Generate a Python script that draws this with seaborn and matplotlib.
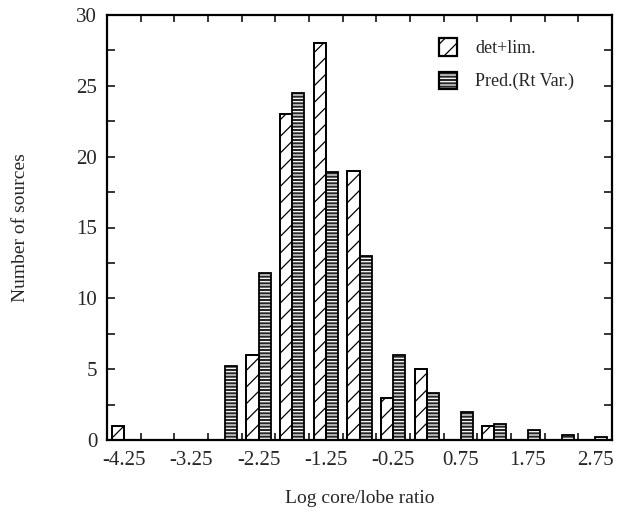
import matplotlib
matplotlib.use("Agg")
import matplotlib.pyplot as plt
from matplotlib.patches import Patch
from matplotlib.ticker import MultipleLocator, FixedLocator
import numpy as np
import pandas as pd
import seaborn as sns

# ---- data ----
bin_centers = [-4.25, -3.75, -3.25, -2.75, -2.25, -1.75, -1.25, -0.75,
               -0.25, 0.25, 0.75, 1.25, 1.75, 2.25, 2.75]
det_lim = [1, 0, 0, 0, 6, 23, 28, 19, 3, 5, 0, 1, 0, 0, 0]
pred_rt = [0, 0, 0, 5.2, 11.8, 24.5, 18.9, 13, 6, 3.3, 2, 1.1, 0.7, 0.35, 0.2]
series_names = ["det+lim.", "Pred.(Rt Var.)"]
xtick_labels = ["-4.25", "-3.25", "-2.25", "-1.25", "-0.25", "0.75", "1.75", "2.75"]

df = pd.DataFrame({
    "x": bin_centers * 2,
    "series": [series_names[0]] * len(bin_centers) + [series_names[1]] * len(bin_centers),
    "count": det_lim + pred_rt,
})

sns.set_style("white")
plt.rcParams["font.family"] = ["Liberation Serif", "DejaVu Serif"]
plt.rcParams["hatch.linewidth"] = 0.9

fig = plt.figure(figsize=(6.32, 5.15), dpi=100)
ax = fig.add_axes([107 / 632, 1 - 440 / 515, 505 / 632, 425 / 515])

dark = "#262626"
pal = {series_names[0]: "white", series_names[1]: dark}

# filled bars
sns.barplot(data=df, x="x", y="count", hue="series", hue_order=series_names,
            native_scale=True, width=0.72, dodge=True, errorbar=None,
            palette=pal, legend=False, ax=ax, saturation=1)
n = len(bin_centers)
fill_patches = list(ax.patches)
for i, p in enumerate(fill_patches):
    if i < n:
        p.set_edgecolor("black")
        p.set_hatch("//")
        p.set_linewidth(1.2)
    else:
        p.set_edgecolor("white")
        p.set_hatch("-----")
        p.set_linewidth(0)

# outline overlay for the striped bars
sns.barplot(data=df, x="x", y="count", hue="series", hue_order=series_names,
            native_scale=True, width=0.72, dodge=True, errorbar=None,
            fill=False, palette={series_names[0]: "black", series_names[1]: "black"},
            legend=False, ax=ax, linewidth=1.3)

ax.set_xlim(-4.5, 3.0)
ax.set_ylim(0, 30)

ax.xaxis.set_major_locator(FixedLocator([-4.25, -3.25, -2.25, -1.25, -0.25, 0.75, 1.75, 2.75]))
ax.set_xticklabels(xtick_labels)
ax.xaxis.set_minor_locator(FixedLocator(np.arange(-4.0, 2.75, 0.5)))
ax.yaxis.set_major_locator(MultipleLocator(5))
ax.yaxis.set_minor_locator(MultipleLocator(2.5))

ax.tick_params(axis="x", which="major", length=0, labelsize=15, pad=8)
ax.tick_params(axis="x", which="minor", direction="in", length=5, width=1.3,
               top=True, bottom=True)
ax.tick_params(axis="y", which="both", direction="in", length=6, width=1.3,
               left=True, right=True, labelsize=15, pad=7)

for s in ax.spines.values():
    s.set_linewidth(1.6)
    s.set_color("black")

ax.set_xlabel("Log core/lobe ratio", fontsize=14, labelpad=14)
ax.set_ylabel("Number of sources", fontsize=14, labelpad=34)

h1 = Patch(facecolor="white", edgecolor="black", hatch="//", linewidth=1.6)
h2a = Patch(facecolor=dark, edgecolor="white", hatch="-----", linewidth=0)
h2b = Patch(facecolor="none", edgecolor="black", linewidth=1.6)
ax.legend([h1, (h2a, h2b)], series_names, loc="upper left",
          bbox_to_anchor=(0.633, 0.975), frameon=False, fontsize=13,
          handlelength=1.0, handleheight=1.1, handletextpad=1.0,
          labelspacing=0.8, borderpad=0.2)

fig.savefig("out.png", dpi=100)
